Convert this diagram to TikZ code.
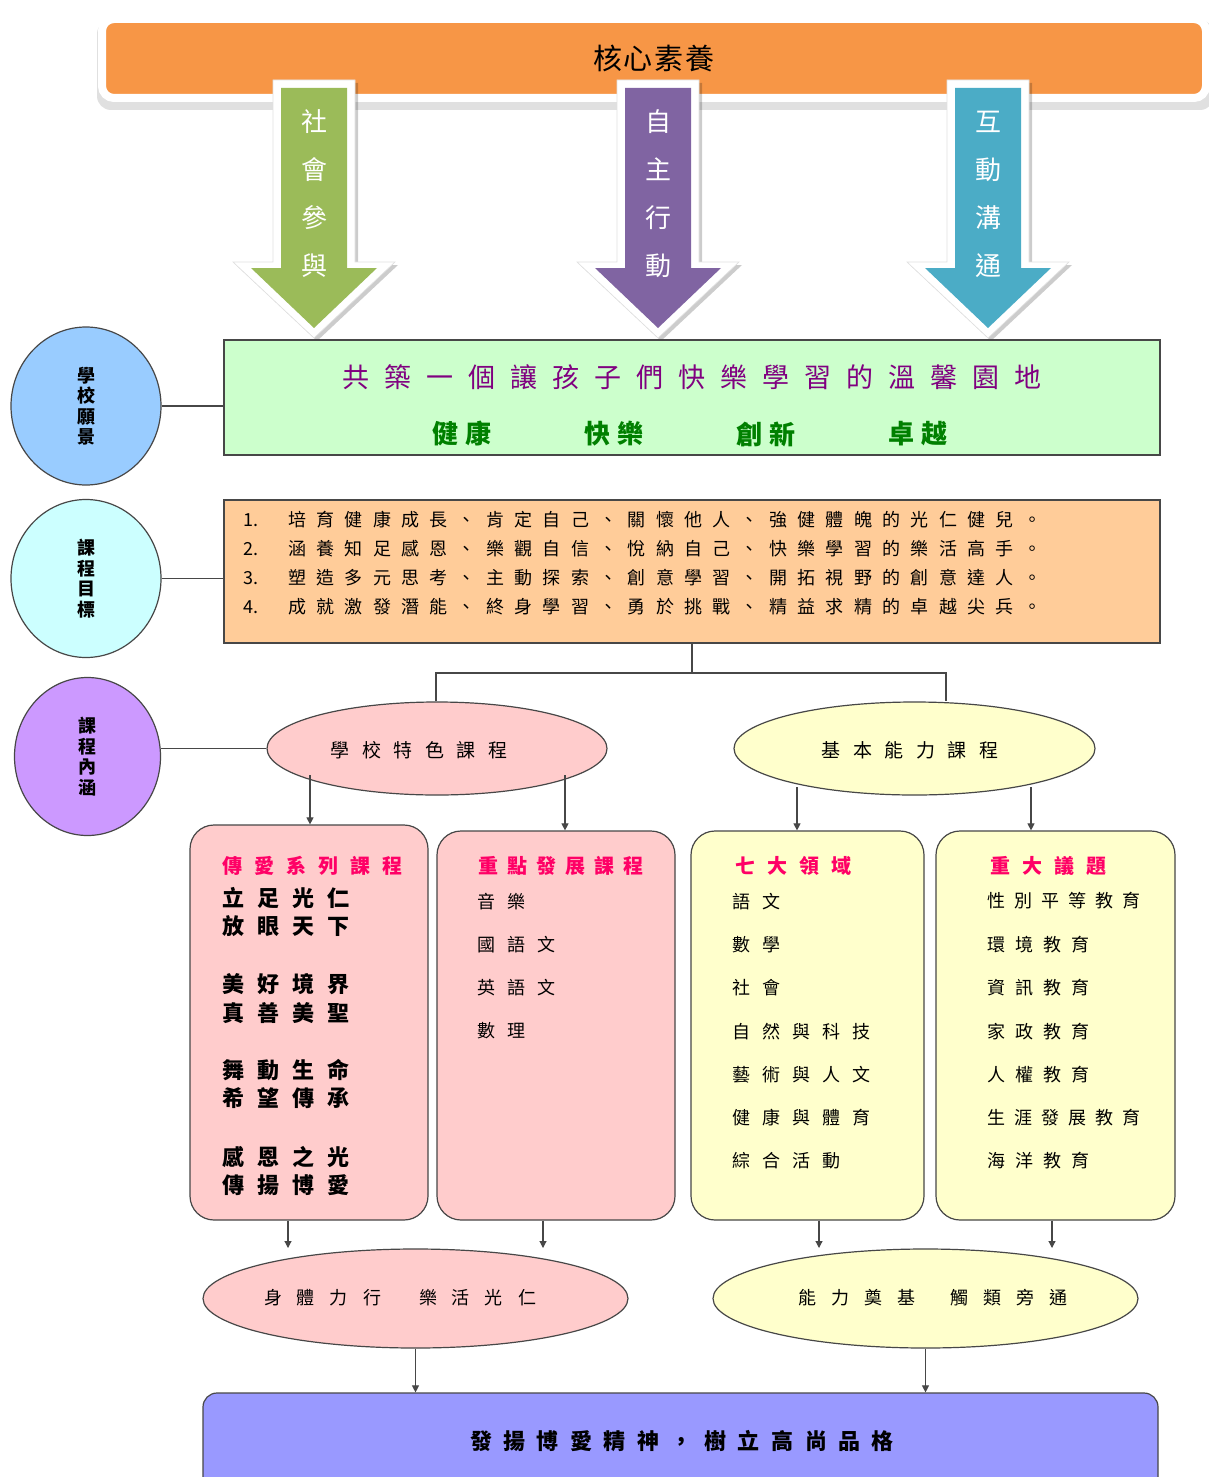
\documentclass[tikz,border=0pt]{standalone}
\usepackage{fontspec}
\setmainfont{Noto Sans CJK TC}
\usetikzlibrary{shapes.geometric,arrows.meta,calc}
\definecolor{coreor}{HTML}{F79646}
\definecolor{agreen}{HTML}{9BBB59}
\definecolor{apurple}{HTML}{8064A2}
\definecolor{ateal}{HTML}{4BACC6}
\definecolor{visgreen}{HTML}{CCFFCC}
\definecolor{goalor}{HTML}{FFCC99}
\definecolor{cblue}{HTML}{99CCFF}
\definecolor{ccyan}{HTML}{CCFFFF}
\definecolor{cviolet}{HTML}{CC99FF}
\definecolor{pinkf}{HTML}{FFCCCC}
\definecolor{yelf}{HTML}{FFFFCC}
\definecolor{botf}{HTML}{9999FF}
\definecolor{vtxt}{HTML}{800080}
\definecolor{gtxt}{HTML}{008000}
\definecolor{mtxt}{HTML}{FF0066}
\newdimen\spcamt
\def\spc#1#2{\spcamt=#1\relax\spcfirst#2\relax}
\def\spcfirst#1{#1\spcloop}
\def\spcloop#1{\ifx#1\relax\else\kern\spcamt#1\expandafter\spcloop\fi}
\begin{document}
\begin{tikzpicture}[x=1pt,y=-1pt,
  ln/.style={draw=black!72,line width=1.1pt},
  arr/.style={ln,-{Triangle[length=7pt,width=7pt]}},
  bx/.style={draw=black!72,line width=1.2pt,inner sep=0pt},
  circ/.style={bx,ellipse,minimum width=150pt,minimum height=158pt,align=center,font=\fontsize{18}{20.5}\selectfont\bfseries},
  ell/.style={bx,ellipse},
  rbox/.style={bx,rounded corners=24pt},
  wt/.style={inner sep=0pt,anchor=west},
  ct/.style={inner sep=0pt},
  arrtext/.style={inner sep=0pt,align=center,text=white,font=\fontsize{26}{48}\selectfont},
  itemf/.style={wt,font=\fontsize{18}{20}\selectfont},
  boldf/.style={wt,font=\fontsize{22}{24}\selectfont\bfseries},
  titlef/.style={wt,text=mtxt,font=\fontsize{20}{22}\selectfont\bfseries}
]
\useasboundingbox (0,0) rectangle (1208,1477);
\fill[white] (0,0) rectangle (1208,1477);
% top box
\fill[black,opacity=0.12,rounded corners=14pt] (97,20) rectangle (1214,110);
\node[fill=coreor,draw=white,line width=8pt,rounded corners=12pt,minimum width=1104pt,minimum height=79pt,inner sep=0pt,font=\fontsize{29}{31}\selectfont] (core) at (654,58.5) {\spc{2pt}{核心素養}};
% arrows
\foreach \cx/\col in {314/agreen,658/apurple,988/ateal}{
  \fill[shift={(3pt,-3pt)},black,opacity=0.2]
    (\cx-41,80) -- (\cx+41,80) -- (\cx+41,262) -- (\cx+81,262) -- (\cx,338) -- (\cx-81,262) -- (\cx-41,262) -- cycle;
  \fill[white,draw=black!12,line width=0.6pt]
    (\cx-41,80) -- (\cx+41,80) -- (\cx+41,262) -- (\cx+81,262) -- (\cx,338) -- (\cx-81,262) -- (\cx-41,262) -- cycle;
  \fill[\col]
    (\cx-33,88) -- (\cx+33,88) -- (\cx+33,268) -- (\cx+63,268) -- (\cx,328) -- (\cx-63,268) -- (\cx-33,268) -- cycle;
}
\node[arrtext] (a1) at (314,194) {社\\會\\參\\與};
\node[arrtext] (a2) at (658,194) {自\\主\\行\\動};
\node[arrtext] (a3) at (988,194) {互\\動\\溝\\通};
% vision box
\node[bx,fill=visgreen,minimum width=936pt,minimum height=115pt] (vision) at (692,397.5) {};
\node[ct,text=vtxt,font=\fontsize{27}{29}\selectfont] (vt) at (692,377) {\spc{15pt}{共築一個讓孩子們快樂學習的溫馨園地}};
\node[ct,text=gtxt,font=\fontsize{26}{28}\selectfont\bfseries] (w1) at (462,434) {\spc{8pt}{健康}};
\node[ct,text=gtxt,font=\fontsize{26}{28}\selectfont\bfseries] (w2) at (614,434) {\spc{8pt}{快樂}};
\node[ct,text=gtxt,font=\fontsize{26}{28}\selectfont\bfseries] (w3) at (766,434) {\spc{8pt}{創新}};
\node[ct,text=gtxt,font=\fontsize{26}{28}\selectfont\bfseries] (w4) at (918,434) {\spc{8pt}{卓越}};
% circles
\node[circ,fill=cblue] (c1) at (86,406) {學\\校\\願\\景};
\node[circ,fill=ccyan] (c2) at (86,578.5) {課\\程\\目\\標};
\node[circ,fill=cviolet,minimum width=146pt] (c3) at (87.5,756.5) {課\\程\\內\\涵};
% goals box
\node[bx,fill=goalor,minimum width=936pt,minimum height=143pt] (goals) at (692,571.5) {};
\node[itemf] (g1) at (243,520) {\makebox[45pt][l]{1.}\spc{10.3pt}{培育健康成長、肯定自己、關懷他人、強健體魄的光仁健兒。}};
\node[itemf] (g2) at (243,549) {\makebox[45pt][l]{2.}\spc{10.3pt}{涵養知足感恩、樂觀自信、悅納自己、快樂學習的樂活高手。}};
\node[itemf] (g3) at (243,578) {\makebox[45pt][l]{3.}\spc{10.3pt}{塑造多元思考、主動探索、創意學習、開拓視野的創意達人。}};
\node[itemf] (g4) at (243,607) {\makebox[45pt][l]{4.}\spc{10.3pt}{成就激發潛能、終身學習、勇於挑戰、精益求精的卓越尖兵。}};
% course ellipses
\node[ell,fill=pinkf,minimum width=340pt,minimum height=93pt] (pe) at (437,748.5) {};
\node[ct,font=\fontsize{19}{21}\selectfont] (pet) at (419,750) {\spc{12.5pt}{學校特色課程}};
\node[ell,fill=yelf,minimum width=361pt,minimum height=93pt] (ye) at (914.5,748.5) {};
\node[ct,font=\fontsize{19}{21}\selectfont] (yet) at (910,750) {\spc{12.5pt}{基本能力課程}};
% connectors from circles
\draw[ln] (c1.east) -- (c1.east -| vision.west);
\draw[ln] (c2.east) -- (c2.east -| goals.west);
\draw[ln] (c3.east |- pe.west) -- (pe.west);
% tree
\coordinate (jl) at (436,673);
\coordinate (jr) at (946,673);
\draw[ln] (goals.south) -- (goals.south |- jl);
\draw[ln] (jl |- pe.north) -- (jl) -- (jr) -- (jr |- ye.north);
% four boxes
\node[rbox,fill=pinkf,minimum width=238pt,minimum height=395pt] (boxA) at (309,1022.5) {};
\node[rbox,fill=pinkf,minimum width=238pt,minimum height=389pt] (boxB) at (556,1025.5) {};
\node[rbox,fill=yelf,minimum width=233pt,minimum height=389pt] (boxC) at (807.5,1025.5) {};
\node[rbox,fill=yelf,minimum width=239pt,minimum height=389pt] (boxD) at (1055.5,1025.5) {};
% arrows ellipses -> boxes
\coordinate (p1) at (310,775);
\coordinate (p2) at (565,775);
\coordinate (p3) at (797,787);
\coordinate (p4) at (1031,787);
\draw[arr] (p1) -- (p1 |- boxA.north);
\draw[arr] (p2) -- (p2 |- boxB.north);
\draw[arr] (p3) -- (p3 |- boxC.north);
\draw[arr] (p4) -- (p4 |- boxD.north);
% box A
\node[titlef] (tA) at (222,866) {\spc{12pt}{傳愛系列課程}};
\node[boldf] (A1) at (222,898) {\spc{13pt}{立足光仁}};
\node[boldf] (A2) at (222,926) {\spc{13pt}{放眼天下}};
\node[boldf] (A3) at (222,984) {\spc{13pt}{美好境界}};
\node[boldf] (A4) at (222,1013) {\spc{13pt}{真善美聖}};
\node[boldf] (A5) at (222,1070) {\spc{13pt}{舞動生命}};
\node[boldf] (A6) at (222,1098) {\spc{13pt}{希望傳承}};
\node[boldf] (A7) at (222,1157) {\spc{13pt}{感恩之光}};
\node[boldf] (A8) at (222,1185) {\spc{13pt}{傳揚博愛}};
% box B
\node[titlef] (tB) at (478,866) {\spc{9pt}{重點發展課程}};
\node[itemf] (B1) at (477,902) {\spc{12pt}{音樂}};
\node[itemf] (B2) at (477,945) {\spc{12pt}{國語文}};
\node[itemf] (B3) at (477,988) {\spc{12pt}{英語文}};
\node[itemf] (B4) at (477,1031) {\spc{12pt}{數理}};
% box C
\node[titlef] (tC) at (735,866) {\spc{12pt}{七大領域}};
\node[itemf] (C1) at (732,902) {\spc{12pt}{語文}};
\node[itemf] (C2) at (732,945) {\spc{12pt}{數學}};
\node[itemf] (C3) at (732,988) {\spc{12pt}{社會}};
\node[itemf] (C4) at (732,1032) {\spc{12pt}{自然與科技}};
\node[itemf] (C5) at (732,1075) {\spc{12pt}{藝術與人文}};
\node[itemf] (C6) at (732,1118) {\spc{12pt}{健康與體育}};
\node[itemf] (C7) at (732,1161) {\spc{12pt}{綜合活動}};
% box D
\node[titlef] (tD) at (990,866) {\spc{12pt}{重大議題}};
\node[itemf] (D1) at (987,901) {\spc{9pt}{性別平等教育}};
\node[itemf] (D2) at (987,945) {\spc{10pt}{環境教育}};
\node[itemf] (D3) at (987,988) {\spc{10pt}{資訊教育}};
\node[itemf] (D4) at (987,1032) {\spc{10pt}{家政教育}};
\node[itemf] (D5) at (987,1075) {\spc{10pt}{人權教育}};
\node[itemf] (D6) at (987,1118) {\spc{9pt}{生涯發展教育}};
\node[itemf] (D7) at (987,1161) {\spc{10pt}{海洋教育}};
% bottom ellipses
\node[ell,fill=pinkf,minimum width=425pt,minimum height=99pt] (pb) at (415.5,1298.5) {};
\node[ct,font=\fontsize{18}{20}\selectfont] (pbt) at (400,1298) {\spc{15pt}{身體力行}\hspace{38pt}\spc{15pt}{樂活光仁}};
\node[ell,fill=yelf,minimum width=425pt,minimum height=99pt] (yb) at (925.5,1298.5) {};
\node[ct,font=\fontsize{18}{20}\selectfont] (ybt) at (933,1298) {\spc{15pt}{能力奠基}\hspace{35pt}\spc{15pt}{觸類旁通}};
% arrows boxes -> bottom ellipses
\coordinate (q1) at (288,1248);
\coordinate (q2) at (543,1248);
\coordinate (q3) at (819,1248);
\coordinate (q4) at (1052,1248);
\draw[arr] (q1 |- boxA.south) -- (q1);
\draw[arr] (q2 |- boxB.south) -- (q2);
\draw[arr] (q3 |- boxC.south) -- (q3);
\draw[arr] (q4 |- boxD.south) -- (q4);
% bottom box
\node[bx,fill=botf,rounded corners=14pt,minimum width=955pt,minimum height=107pt] (bb) at (680.5,1446.5) {};
\node[ct,font=\fontsize{22}{24}\selectfont\bfseries] (bbt) at (682,1441) {\spc{11.5pt}{發揚博愛精神，樹立高尚品格}};
\draw[arr] (pb.south) -- (pb.south |- bb.north);
\draw[arr] (yb.south) -- (yb.south |- bb.north);
\end{tikzpicture}
\end{document}
